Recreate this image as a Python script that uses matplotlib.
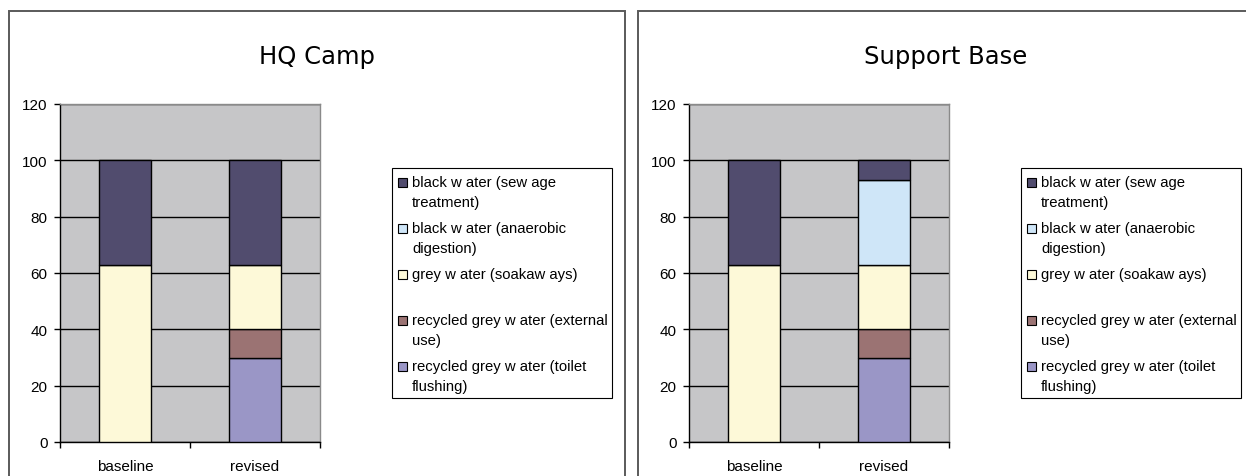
import matplotlib
matplotlib.use('Agg')
import matplotlib.pyplot as plt
from matplotlib.patches import Rectangle
import numpy as np

W, H = 1246, 477

categories = ['baseline', 'revised']

# series names, top of the stack first (legend order)
series_names = ['black w ater (sew age\ntreatment)',
                'black w ater (anaerobic\ndigestion)',
                'grey w ater (soakaw ays)',
                'recycled grey w ater (external\nuse)',
                'recycled grey w ater (toilet\nflushing)']
series_colors = ['#514C6E', '#CFE6F8', '#FDF9D8', '#9B7373', '#9A96C6']

# HQ Camp, % of wastewater per route
hq_sewage = [37, 37]
hq_anaerobic = [0, 0]
hq_grey = [63, 23]
hq_external = [0, 10]
hq_toilet = [0, 30]

# Support Base
sb_sewage = [37, 7]
sb_anaerobic = [0, 30]
sb_grey = [63, 23]
sb_external = [0, 10]
sb_toilet = [0, 30]

y_ticks = [0, 20, 40, 60, 80, 100, 120]

fig = plt.figure(figsize=(W / 100, H / 100), dpi=100)
plt.rcParams['font.family'] = ['Liberation Sans', 'DejaVu Sans']


def px_box(x0, y0, x1, y1):
    # pixel box (top-left origin) -> figure fraction [left, bottom, width, height]
    return [x0 / W, 1 - y1 / H, (x1 - x0) / W, (y1 - y0) / H]


def draw_chart(dx, title, stacks):
    # outer chart frame
    fig.add_artist(Rectangle((9 / W + dx / W, -0.1), 616 / W, 1 - 12 / H + 0.1,
                             transform=fig.transFigure, fill=False,
                             edgecolor='#5a5a5a', lw=1.4))
    fig.text((317 + dx) / W, 1 - 57 / H, title, ha='center', va='center',
             fontsize=17.5, family=['DejaVu Sans'])

    ax = fig.add_axes(px_box(60 + dx, 105, 320 + dx, 443))
    ax.set_facecolor('#C6C6C8')
    x = np.arange(len(categories))
    bottom = np.zeros(len(categories))
    # stack from the bottom: toilet, external, grey, anaerobic, sewage
    for vals, col in zip(stacks[::-1], series_colors[::-1]):
        vals = np.array(vals, dtype=float)
        mask = vals > 0
        ax.bar(x[mask], vals[mask], width=0.4, bottom=bottom[mask], color=col,
               edgecolor='black', linewidth=1.0, zorder=3)
        bottom += vals

    ax.set_xlim(-0.5, 1.5)
    ax.set_ylim(0, 120)
    ax.set_yticks(y_ticks)
    ax.yaxis.grid(True, color='black', linewidth=1.0, zorder=1)
    ax.set_axisbelow(True)
    ax.tick_params(axis='y', length=4, width=1, pad=5, labelsize=11, direction='out')

    # category boundary ticks, labels at the centres
    ax.set_xticks([-0.5, 0.5, 1.5])
    ax.set_xticklabels([])
    ax.tick_params(axis='x', which='major', length=4, width=1, direction='out')
    ax.set_xticks(x, minor=True)
    ax.set_xticklabels(categories, minor=True)
    ax.tick_params(axis='x', which='minor', length=0, pad=12, labelsize=11)

    for side in ['top', 'right']:
        ax.spines[side].set_color('#8a8a8a')
        ax.spines[side].set_linewidth(1.0)
    for side in ['left', 'bottom']:
        ax.spines[side].set_color('black')
        ax.spines[side].set_linewidth(1.0)

    # legend box drawn by hand so markers sit on the first line
    lx0, ly0, lx1, ly1 = 392 + dx, 169, 612 + dx, 399
    fig.add_artist(Rectangle((lx0 / W, 1 - ly1 / H), (lx1 - lx0) / W, (ly1 - ly0) / H,
                             transform=fig.transFigure, facecolor='white',
                             edgecolor='black', lw=0.8, zorder=2))
    for i, (name, col) in enumerate(zip(series_names, series_colors)):
        yc = ly0 + 14 + 46 * i
        fig.add_artist(Rectangle(((lx0 + 6) / W, 1 - (yc + 4.5) / H), 9 / W, 9 / H,
                                 transform=fig.transFigure, facecolor=col,
                                 edgecolor='black', lw=0.8, zorder=3))
        for j, line in enumerate(name.split('\n')):
            fig.text((lx0 + 20) / W, 1 - (yc + 20 * j) / H, line,
                     ha='left', va='center', fontsize=10.7, zorder=3)
    return ax


draw_chart(0, 'HQ Camp', [hq_sewage, hq_anaerobic, hq_grey, hq_external, hq_toilet])
draw_chart(629, 'Support Base', [sb_sewage, sb_anaerobic, sb_grey, sb_external, sb_toilet])

fig.savefig('out.png', dpi=100)
